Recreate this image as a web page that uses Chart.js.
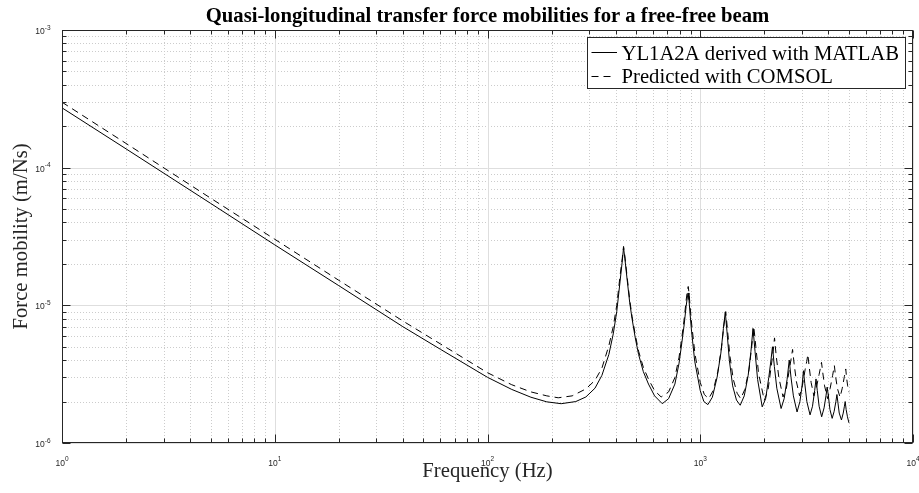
<!DOCTYPE html>
<html>
<head>
<meta charset="utf-8">
<script src="https://cdn.jsdelivr.net/npm/chart.js@4.4.1/dist/chart.umd.min.js"></script>
<style>
html,body{margin:0;padding:0;background:#fff;}
#wrap{width:919px;height:493px;}
</style>
</head>
<body>
<div id="wrap"><canvas id="c" width="919" height="493"></canvas></div>
<script>
// ---------- text ----------
const titleText = 'Quasi-longitudinal transfer force mobilities for a free-free beam';
const xAxisLabel = 'Frequency (Hz)';
const yAxisLabel = 'Force mobility (m/Ns)';
const seriesLabels = ['YL1A2A derived with MATLAB', 'Predicted with COMSOL'];

// ---------- tick labels (decade exponents) ----------
const xDecades = [0, 1, 2, 3, 4];
const yDecades = [-6, -5, -4, -3];

// ---------- series 1: YL1A2A derived with MATLAB (solid) ----------
const freqSolid = [
  1, 2, 5, 10, 20, 40, 60, 100, 130, 160,
  190, 222, 260, 290, 320, 345, 372, 390, 405, 420,
  430, 436, 442, 453, 466, 478, 495, 513, 540, 571,
  610, 663, 710, 760, 795, 820, 840, 858, 870, 877,
  885, 895, 910, 942, 1000, 1040, 1086, 1140, 1200, 1250,
  1285, 1311, 1335, 1370, 1420, 1480, 1541, 1610, 1680, 1730,
  1770, 1810, 1860, 1955, 2030, 2100, 2150, 2185, 2230, 2290,
  2399, 2480, 2560, 2620, 2670, 2740, 2851, 2940, 3010, 3055,
  3100, 3170, 3282, 3370, 3450, 3500, 3550, 3620, 3721, 3820,
  3900, 3950, 4000, 4070, 4169, 4260, 4340, 4390, 4440, 4500,
  4610, 4700, 4760, 4800, 4850, 4920, 5000
];
const valSolid = [
  2.72e-4, 1.37e-4, 5.5e-5, 2.75e-5, 1.39e-5, 7.0e-6, 4.8e-6, 3.0e-6, 2.45e-6, 2.15e-6,
  1.99e-6, 1.93e-6, 2.0e-6, 2.16e-6, 2.5e-6, 3.1e-6, 4.4e-6, 6.2e-6, 9.0e-6, 1.5e-5,
  2.1e-5, 2.62e-5, 2.2e-5, 1.55e-5, 1.05e-5, 8.0e-6, 5.8e-6, 4.4e-6, 3.3e-6, 2.68e-6,
  2.2e-6, 1.93e-6, 2.1e-6, 2.68e-6, 3.8e-6, 5.4e-6, 7.2e-6, 9.8e-6, 1.15e-5, 1.23e-5,
  1.1e-5, 8.8e-6, 6.5e-6, 3.93e-6, 2.4e-6, 2.0e-6, 1.9e-6, 2.15e-6, 3.0e-6, 4.5e-6,
  6.8e-6, 8.96e-6, 6.5e-6, 4.0e-6, 2.6e-6, 2.05e-6, 1.88e-6, 2.2e-6, 3.1e-6, 4.6e-6,
  6.8e-6, 4.6e-6, 2.9e-6, 1.83e-6, 2.1e-6, 3.0e-6, 4.0e-6, 5.0e-6, 3.6e-6, 2.5e-6,
  1.78e-6, 2.1e-6, 2.9e-6, 4.0e-6, 3.0e-6, 2.2e-6, 1.68e-6, 2.0e-6, 2.6e-6, 3.35e-6,
  2.7e-6, 2.0e-6, 1.6e-6, 1.85e-6, 2.4e-6, 2.92e-6, 2.4e-6, 1.85e-6, 1.55e-6, 1.8e-6,
  2.2e-6, 2.55e-6, 2.2e-6, 1.75e-6, 1.51e-6, 1.7e-6, 2.0e-6, 2.25e-6, 1.95e-6, 1.65e-6,
  1.47e-6, 1.65e-6, 1.85e-6, 2.0e-6, 1.75e-6, 1.55e-6, 1.4e-6
];

// ---------- series 2: Predicted with COMSOL (dashed) ----------
const freqDashed = [
  1, 2, 5, 10, 20, 40, 60, 100, 130, 160,
  190, 215, 250, 290, 320, 345, 372, 390, 405, 420,
  430, 436, 442, 453, 466, 478, 495, 513, 540, 571,
  610, 655, 710, 760, 795, 820, 840, 858, 870, 878,
  886, 896, 912, 945, 1000, 1045, 1095, 1150, 1210, 1260,
  1292, 1318, 1342, 1378, 1430, 1490, 1550, 1620, 1695, 1745,
  1785, 1825, 1880, 2000, 2080, 2150, 2200, 2234, 2275, 2340,
  2450, 2540, 2620, 2675, 2716, 2760, 2830, 2930, 3020, 3110,
  3165, 3206, 3250, 3320, 3420, 3520, 3620, 3670, 3715, 3760,
  3840, 3970, 4080, 4190, 4235, 4270, 4320, 4410, 4540, 4650,
  4760, 4800, 4830, 4870, 4930, 5000
];
const valDashed = [
  2.99e-4, 1.5e-4, 6.0e-5, 3.02e-5, 1.52e-5, 7.7e-6, 5.25e-6, 3.24e-6, 2.65e-6, 2.35e-6,
  2.2e-6, 2.13e-6, 2.2e-6, 2.47e-6, 2.85e-6, 3.5e-6, 5.1e-6, 7.0e-6, 1.0e-5, 1.65e-5,
  2.2e-5, 2.68e-5, 2.3e-5, 1.62e-5, 1.1e-5, 8.3e-6, 6.1e-6, 4.65e-6, 3.55e-6, 2.91e-6,
  2.4e-6, 2.16e-6, 2.35e-6, 2.99e-6, 4.2e-6, 5.9e-6, 7.9e-6, 1.08e-5, 1.28e-5, 1.37e-5,
  1.22e-5, 9.8e-6, 7.2e-6, 4.4e-6, 2.75e-6, 2.25e-6, 2.1e-6, 2.4e-6, 3.3e-6, 5.0e-6,
  7.2e-6, 9.0e-6, 6.7e-6, 4.3e-6, 2.9e-6, 2.3e-6, 2.1e-6, 2.45e-6, 3.4e-6, 5.0e-6,
  7.0e-6, 5.0e-6, 3.2e-6, 2.04e-6, 2.4e-6, 3.5e-6, 4.6e-6, 5.8e-6, 4.3e-6, 3.0e-6,
  2.16e-6, 2.5e-6, 3.4e-6, 4.1e-6, 4.78e-6, 3.8e-6, 2.8e-6, 2.2e-6, 2.6e-6, 3.4e-6,
  3.9e-6, 4.4e-6, 3.6e-6, 2.75e-6, 2.2e-6, 2.55e-6, 3.15e-6, 3.5e-6, 3.85e-6, 3.3e-6,
  2.6e-6, 2.1e-6, 2.5e-6, 3.1e-6, 3.4e-6, 3.65e-6, 3.1e-6, 2.5e-6, 2.15e-6, 2.5e-6,
  3.05e-6, 3.3e-6, 3.45e-6, 3.0e-6, 2.6e-6, 2.34e-6
];

// ---------- styling ----------
const AXIS = '#262626';
const SERIF = '"Liberation Serif", "Times New Roman", serif';
const SANS = '"Liberation Sans", Helvetica, Arial, sans-serif';
const DASH = [7, 5];

const toPoints = (fs, vs) => fs.map((f, i) => ({x: f, y: vs[i]}));

function logTickValues(e0, e1) {
  const out = [];
  for (let e = e0; e < e1; e++) {
    for (let d = 1; d <= 9; d++) out.push({v: d * Math.pow(10, e), major: d === 1});
  }
  out.push({v: Math.pow(10, e1), major: true});
  return out;
}

const matlabPlugin = {
  id: 'matlabAxes',
  beforeDatasetsDraw(chart) {
    const {ctx, chartArea: a, scales: {x, y}} = chart;
    ctx.save();
    ctx.lineWidth = 1;
    const xt = logTickValues(xDecades[0], xDecades[xDecades.length - 1]);
    const yt = logTickValues(yDecades[0], yDecades[yDecades.length - 1]);
    // minor dotted grid
    ctx.strokeStyle = '#cccccc';
    ctx.setLineDash([1, 2]);
    ctx.beginPath();
    xt.forEach(t => { if (!t.major) { const p = Math.round(x.getPixelForValue(t.v)) + 0.5; ctx.moveTo(p, a.top); ctx.lineTo(p, a.bottom); } });
    yt.forEach(t => { if (!t.major) { const p = Math.round(y.getPixelForValue(t.v)) + 0.5; ctx.moveTo(a.left, p); ctx.lineTo(a.right, p); } });
    ctx.stroke();
    // major solid grid
    ctx.setLineDash([]);
    ctx.strokeStyle = '#dedede';
    ctx.beginPath();
    xt.forEach(t => { if (t.major) { const p = Math.round(x.getPixelForValue(t.v)) + 0.5; ctx.moveTo(p, a.top); ctx.lineTo(p, a.bottom); } });
    yt.forEach(t => { if (t.major) { const p = Math.round(y.getPixelForValue(t.v)) + 0.5; ctx.moveTo(a.left, p); ctx.lineTo(a.right, p); } });
    ctx.stroke();
    ctx.restore();
  },
  afterDatasetsDraw(chart) {
    const {ctx, chartArea: a, scales: {x, y}} = chart;
    const xt = logTickValues(xDecades[0], xDecades[xDecades.length - 1]);
    const yt = logTickValues(yDecades[0], yDecades[yDecades.length - 1]);
    ctx.save();
    ctx.lineWidth = 1;
    ctx.strokeStyle = AXIS;
    ctx.setLineDash([]);
    const L = a.left + 0.5, T = a.top + 0.5, R = a.right - 0.5, B = a.bottom - 0.5;
    // inward ticks
    ctx.beginPath();
    xt.forEach(t => {
      const p = Math.round(x.getPixelForValue(t.v)) + 0.5;
      const len = t.major ? 8 : 4;
      ctx.moveTo(p, B); ctx.lineTo(p, B - len);
      ctx.moveTo(p, T); ctx.lineTo(p, T + len);
    });
    yt.forEach(t => {
      const p = Math.round(y.getPixelForValue(t.v)) + 0.5;
      const len = t.major ? 8 : 4;
      ctx.moveTo(L, p); ctx.lineTo(L + len, p);
      ctx.moveTo(R, p); ctx.lineTo(R - len, p);
    });
    ctx.stroke();
    // box
    ctx.strokeRect(L, T, R - L, B - T);

    // tick labels
    ctx.fillStyle = AXIS;
    ctx.textBaseline = 'alphabetic';
    const baseFont = '8.5px ' + SANS, expFont = '6.5px ' + SANS;
    xDecades.forEach(e => {
      const px = x.getPixelForValue(Math.pow(10, e));
      const es = String(e);
      ctx.font = baseFont; const w1 = ctx.measureText('10').width;
      ctx.font = expFont; const w2 = ctx.measureText(es).width;
      const x0 = px - (w1 + w2) / 2;
      ctx.textAlign = 'left';
      ctx.font = baseFont; ctx.fillText('10', x0, 465.5);
      ctx.font = expFont; ctx.fillText(es, x0 + w1, 460.5);
    });
    yDecades.forEach(e => {
      const py = y.getPixelForValue(Math.pow(10, e));
      const es = String(e);
      ctx.font = expFont; const w2 = ctx.measureText(es).width;
      ctx.font = baseFont; const w1 = ctx.measureText('10').width;
      const xr = 50.5;
      ctx.textAlign = 'left';
      ctx.font = baseFont; ctx.fillText('10', xr - w2 - w1, py + 4);
      ctx.font = expFont; ctx.fillText(es, xr - w2, py - 0.5);
    });

    // title
    ctx.fillStyle = '#000';
    ctx.font = 'bold 20.7px ' + SERIF;
    ctx.textAlign = 'center';
    ctx.fillText(titleText, (a.left + a.right) / 2, 21.5);
    // x axis title
    ctx.fillStyle = AXIS;
    ctx.font = '20.7px ' + SERIF;
    ctx.fillText(xAxisLabel, (a.left + a.right) / 2, 476.5);
    // y axis title
    ctx.save();
    ctx.translate(27, (a.top + a.bottom) / 2);
    ctx.rotate(-Math.PI / 2);
    ctx.fillText(yAxisLabel, 0, 0);
    ctx.restore();

    // legend
    const lx = 587.5, ly = 37.5, lw = 318, lh = 51;
    ctx.fillStyle = '#fff';
    ctx.fillRect(lx, ly, lw, lh);
    ctx.strokeStyle = AXIS;
    ctx.strokeRect(lx, ly, lw, lh);
    const rows = [{y: 52.5, base: 59.5, dash: [], end: 617}, {y: 76.5, base: 83, dash: DASH, end: 612}];
    rows.forEach((r, i) => {
      ctx.strokeStyle = '#000';
      ctx.setLineDash(r.dash);
      ctx.beginPath();
      ctx.moveTo(591.5, r.y); ctx.lineTo(r.end, r.y);
      ctx.stroke();
      ctx.setLineDash([]);
      ctx.fillStyle = '#000';
      ctx.font = '20.7px ' + SERIF;
      ctx.textAlign = 'left';
      ctx.fillText(chart.data.datasets[i].label, 621.5, r.base);
    });
    ctx.restore();
  }
};

new Chart(document.getElementById('c'), {
  type: 'line',
  data: {
    datasets: [
      {label: seriesLabels[0], data: toPoints(freqSolid, valSolid), borderColor: '#000', borderWidth: 1, pointRadius: 0, fill: false, tension: 0},
      {label: seriesLabels[1], data: toPoints(freqDashed, valDashed), borderColor: '#000', borderWidth: 1, borderDash: DASH, pointRadius: 0, fill: false, tension: 0}
    ]
  },
  options: {
    responsive: false,
    animation: false,
    devicePixelRatio: 1,
    layout: {padding: {left: 54, right: 6, top: 30, bottom: 42}},
    plugins: {legend: {display: false}, title: {display: false}, tooltip: {enabled: false}},
    scales: {
      x: {type: 'logarithmic', min: 1, max: 10000, offset: false,
          grid: {display: false}, border: {display: false}, ticks: {display: false}, title: {display: false}},
      y: {type: 'logarithmic', min: 1e-6, max: 1e-3,
          grid: {display: false}, border: {display: false}, ticks: {display: false}, title: {display: false}}
    }
  },
  plugins: [matlabPlugin]
});
</script>
</body>
</html>
